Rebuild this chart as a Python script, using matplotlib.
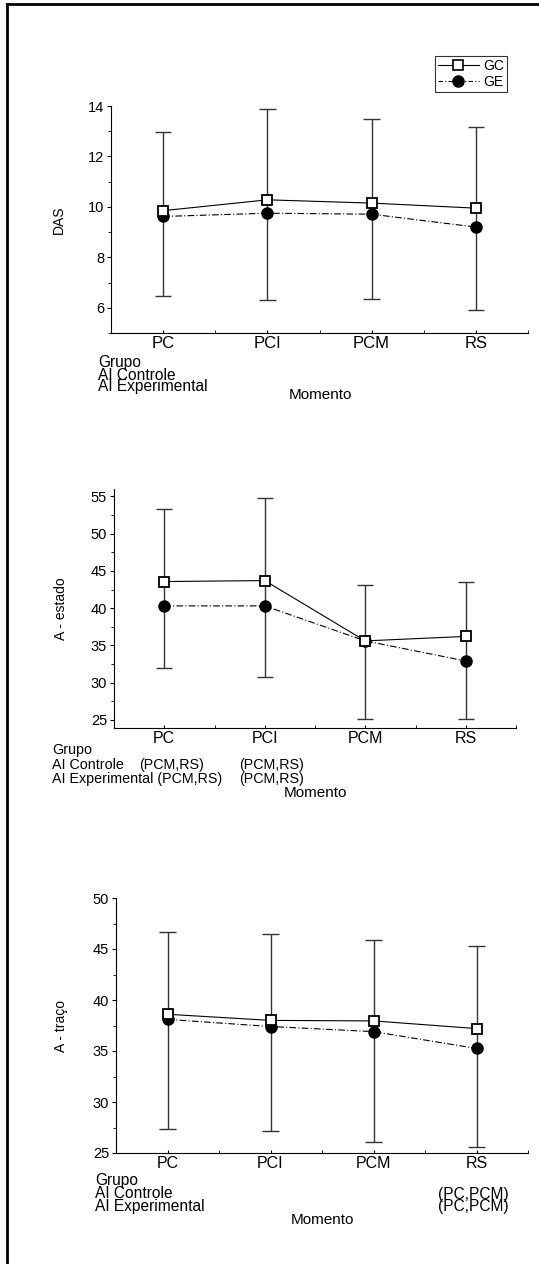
import numpy as np
import matplotlib
matplotlib.use('Agg')
import matplotlib.pyplot as plt
from matplotlib.lines import Line2D
from matplotlib.ticker import MultipleLocator

plt.rcParams['font.family'] = ['Liberation Sans', 'DejaVu Sans']

momentos = ['PC', 'PCI', 'PCM', 'RS']

das_gc = [9.85, 10.28, 10.15, 9.95]
das_ge = [9.62, 9.75, 9.71, 9.2]
das_hi = [12.97, 13.89, 13.5, 13.16]
das_lo = [6.45, 6.29, 6.34, 5.92]

est_gc = [43.57, 43.7, 35.6, 36.2]
est_ge = [40.3, 40.3, 35.6, 32.9]
est_hi = [53.3, 54.85, 43.1, 43.5]
est_lo = [31.9, 30.8, 25.05, 25.05]

tra_gc = [38.6, 38.0, 37.95, 37.2]
tra_ge = [38.1, 37.4, 36.9, 35.25]
tra_hi = [46.65, 46.5, 45.85, 45.25]
tra_lo = [27.4, 27.2, 26.1, 25.6]

W, H = 539, 1264
fig = plt.figure(figsize=(W / 100, H / 100), dpi=100)


def px_axes(l, r, t, b):
    return fig.add_axes([l / W, 1 - b / H, (r - l) / W, (b - t) / H])


def panel(ax, gc, ge, hi, lo, ylim, major, ylabel, ylab_x, xfs):
    x = np.arange(1, len(momentos) + 1)
    ax.vlines(x, lo, hi, color='#333333', lw=1.0, zorder=1)
    ax.hlines(hi, x - 0.08, x + 0.08, color='#333333', lw=1.0, zorder=1)
    ax.hlines(lo, x - 0.08, x + 0.08, color='#333333', lw=1.0, zorder=1)
    ax.plot(x, ge, color='black', lw=0.8, ls=(0, (6, 2, 1, 2)), marker='o',
            ms=8, mfc='black', mec='black', zorder=3, label='GE')
    ax.plot(x, gc, color='black', lw=0.8, ls='-', marker='s',
            ms=7, mfc='white', mec='black', mew=1.3, zorder=4, label='GC')
    ax.set_xlim(0.5, 4.5)
    ax.set_ylim(*ylim)
    ax.spines['top'].set_visible(False)
    ax.spines['right'].set_visible(False)
    ax.set_xticks(x)
    ax.set_xticklabels(momentos, fontsize=xfs)
    ax.set_xticks([1.5, 2.5, 3.5, 4.5], minor=True)
    ax.tick_params(axis='x', which='both', direction='in', length=2.5, pad=2)
    ax.yaxis.set_major_locator(MultipleLocator(major))
    ax.yaxis.set_minor_locator(MultipleLocator(major / 2))
    ax.tick_params(axis='y', which='major', direction='out', length=3, labelsize=10.5, pad=2)
    ax.tick_params(axis='y', which='minor', direction='out', length=2)
    ax.set_ylabel(ylabel, fontsize=10)
    ax.yaxis.set_label_coords(ylab_x, 0.5)
    ax.patch.set_alpha(0)


ax1 = px_axes(111, 528, 106, 333)
panel(ax1, das_gc, das_ge, das_hi, das_lo, (5, 14), 2, 'DAS', -0.108, 12)
ax2 = px_axes(114, 516, 489, 728)
panel(ax2, est_gc, est_ge, est_hi, est_lo, (23.9, 56), 5, 'A - estado', -0.114, 11.5)
ax3 = px_axes(116, 528, 898, 1153)
panel(ax3, tra_gc, tra_ge, tra_hi, tra_lo, (25, 50), 5, 'A - traço', -0.117, 11.5)

# legend only on the first panel
h_gc = Line2D([], [], color='black', lw=0.8, marker='s', ms=7, mfc='white', mec='black', mew=1.2)
h_ge = Line2D([], [], color='black', lw=0.8, ls=(0, (4, 2, 1, 2)), marker='o', ms=8, mfc='black')
leg = fig.legend([h_gc, h_ge], ['GC', 'GE'], loc='upper right',
                 bbox_to_anchor=(507 / W, 1 - 56 / H), fontsize=10, frameon=True,
                 fancybox=False, edgecolor='black', handlelength=3.0, handletextpad=0.3,
                 borderpad=0.2, labelspacing=0.15, borderaxespad=0)
leg.get_frame().set_linewidth(0.8)


def ftext(xp, yp, s, fs=11.2, **kw):
    fig.text(xp / W, 1 - yp / H, s, va='center', fontsize=fs, **kw)


# group annotation rows under each panel
ftext(98, 363, 'Grupo')
ftext(98, 375, 'AI Controle')
ftext(98, 387, 'AI Experimental')
ftext(320, 395, 'Momento', fs=11, ha='center')

ftext(52, 750, 'Grupo', fs=10.3)
ftext(52, 765, 'AI Controle', fs=10.3)
ftext(139, 765, '(PCM,RS)', fs=10.3)
ftext(52, 779, 'AI Experimental (PCM,RS)', fs=10.3)
ftext(239, 765, '(PCM,RS)', fs=10.3)
ftext(239, 779, '(PCM,RS)', fs=10.3)
ftext(315, 793, 'Momento', fs=11, ha='center')

ftext(95, 1180, 'Grupo')
ftext(95, 1194, 'AI Controle')
ftext(95, 1207, 'AI Experimental')
ftext(438, 1194, '(PC,PCM)')
ftext(438, 1207, '(PC,PCM)')
ftext(322, 1220, 'Momento', fs=11, ha='center')

# page frame (left and top edges)
fig.add_artist(Line2D([7 / W, 7 / W], [0, 1 - 4 / H], color='black', lw=2))
fig.add_artist(Line2D([7 / W, 1], [1 - 4 / H, 1 - 4 / H], color='black', lw=2))

fig.savefig('out.png', dpi=100)
